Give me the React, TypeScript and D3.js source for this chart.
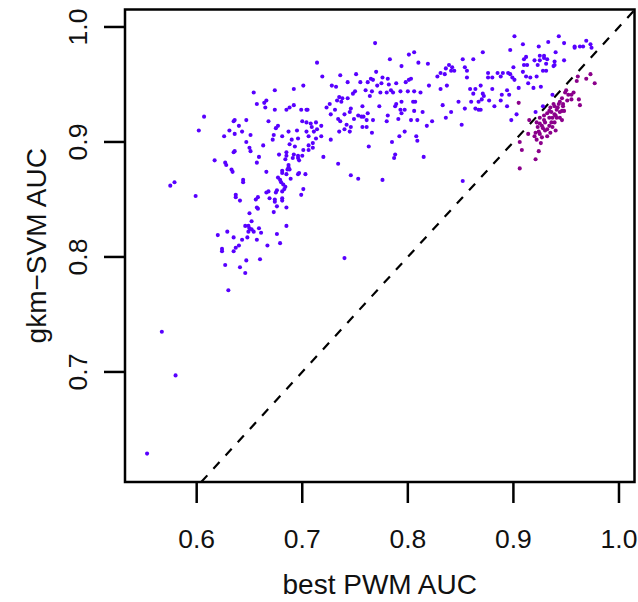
import React from "react";
import * as d3 from "d3";

// best PWM AUC (x) vs gkm-SVM AUC (y); gkm-SVM better (blue) / PWM comparable (purple)
const gkmBetter: [number, number][] = [
  [0.654,0.943],[0.674,0.945],[0.692,0.946],[0.657,0.933],[0.664,0.934],[0.666,0.936],[0.665,0.930],[0.674,0.928],
  [0.685,0.928],[0.688,0.930],[0.692,0.932],[0.607,0.922],[0.602,0.910],[0.635,0.918],[0.636,0.919],[0.647,0.919],
  [0.668,0.918],[0.640,0.914],[0.631,0.910],[0.643,0.909],[0.636,0.907],[0.675,0.912],[0.677,0.914],[0.687,0.909],
  [0.695,0.910],[0.626,0.905],[0.651,0.906],[0.673,0.906],[0.672,0.902],[0.681,0.905],[0.690,0.902],[0.696,0.903],
  [0.647,0.900],[0.663,0.897],[0.688,0.898],[0.693,0.896],[0.650,0.895],[0.651,0.892],[0.635,0.891],[0.636,0.892],
  [0.659,0.887],[0.678,0.889],[0.685,0.891],[0.685,0.888],[0.692,0.889],[0.696,0.888],[0.769,0.986],[0.783,0.972],
  [0.801,0.976],[0.806,0.978],[0.714,0.969],[0.794,0.966],[0.810,0.969],[0.719,0.957],[0.736,0.958],[0.751,0.959],
  [0.770,0.961],[0.765,0.955],[0.762,0.952],[0.767,0.954],[0.776,0.956],[0.781,0.955],[0.798,0.952],[0.801,0.954],
  [0.803,0.955],[0.755,0.952],[0.743,0.952],[0.701,0.949],[0.728,0.949],[0.732,0.948],[0.771,0.949],[0.775,0.951],
  [0.782,0.950],[0.789,0.951],[0.750,0.944],[0.748,0.942],[0.760,0.945],[0.766,0.944],[0.764,0.940],[0.774,0.943],
  [0.780,0.943],[0.784,0.945],[0.786,0.943],[0.793,0.944],[0.800,0.944],[0.806,0.944],[0.735,0.939],[0.738,0.938],
  [0.737,0.935],[0.733,0.936],[0.743,0.938],[0.726,0.933],[0.723,0.930],[0.757,0.931],[0.773,0.931],[0.789,0.933],
  [0.788,0.931],[0.794,0.935],[0.805,0.935],[0.807,0.935],[0.699,0.928],[0.704,0.928],[0.705,0.928],[0.731,0.928],
  [0.746,0.929],[0.745,0.926],[0.762,0.925],[0.793,0.928],[0.797,0.928],[0.727,0.924],[0.740,0.924],[0.753,0.923],
  [0.756,0.922],[0.758,0.922],[0.781,0.923],[0.794,0.925],[0.806,0.927],[0.734,0.920],[0.736,0.918],[0.749,0.920],
  [0.761,0.919],[0.767,0.919],[0.780,0.918],[0.791,0.920],[0.803,0.919],[0.809,0.919],[0.700,0.918],[0.704,0.917],
  [0.708,0.916],[0.713,0.917],[0.709,0.913],[0.718,0.914],[0.742,0.915],[0.746,0.913],[0.757,0.913],[0.740,0.911],
  [0.735,0.909],[0.745,0.909],[0.761,0.913],[0.766,0.908],[0.797,0.909],[0.704,0.909],[0.711,0.909],[0.714,0.911],
  [0.706,0.905],[0.713,0.903],[0.718,0.905],[0.792,0.905],[0.808,0.905],[0.809,0.901],[0.727,0.902],[0.785,0.900],
  [0.710,0.899],[0.710,0.895],[0.706,0.897],[0.701,0.893],[0.706,0.893],[0.763,0.896],[0.720,0.887],[0.788,0.889],
  [0.787,0.886],[0.901,0.992],[0.909,0.985],[0.897,0.980],[0.924,0.983],[0.871,0.978],[0.852,0.972],[0.862,0.972],
  [0.912,0.974],[0.910,0.972],[0.920,0.971],[0.819,0.968],[0.839,0.967],[0.836,0.964],[0.842,0.965],[0.844,0.962],
  [0.841,0.962],[0.854,0.965],[0.856,0.962],[0.910,0.967],[0.913,0.967],[0.900,0.965],[0.923,0.967],[0.831,0.960],
  [0.835,0.959],[0.828,0.957],[0.856,0.956],[0.876,0.960],[0.876,0.956],[0.880,0.956],[0.885,0.960],[0.888,0.957],
  [0.890,0.960],[0.895,0.960],[0.897,0.959],[0.899,0.956],[0.909,0.961],[0.912,0.957],[0.916,0.956],[0.901,0.954],
  [0.922,0.957],[0.914,0.951],[0.820,0.949],[0.837,0.949],[0.831,0.946],[0.869,0.949],[0.864,0.946],[0.859,0.946],
  [0.880,0.946],[0.894,0.945],[0.905,0.947],[0.919,0.947],[0.812,0.943],[0.862,0.942],[0.871,0.942],[0.872,0.940],
  [0.889,0.941],[0.896,0.941],[0.870,0.937],[0.848,0.935],[0.860,0.935],[0.867,0.935],[0.877,0.936],[0.888,0.936],
  [0.833,0.932],[0.854,0.929],[0.864,0.929],[0.867,0.928],[0.869,0.928],[0.894,0.931],[0.841,0.926],[0.814,0.926],
  [0.836,0.921],[0.823,0.918],[0.818,0.914],[0.851,0.915],[0.898,0.919],[0.943,0.992],[0.933,0.987],[0.948,0.986],
  [0.969,0.988],[0.973,0.985],[0.974,0.982],[0.958,0.983],[0.958,0.982],[0.963,0.983],[0.966,0.983],[0.940,0.978],
  [0.925,0.975],[0.929,0.975],[0.929,0.973],[0.925,0.971],[0.932,0.972],[0.939,0.970],[0.948,0.971],[0.931,0.968],
  [0.938,0.966],[0.939,0.967],[0.928,0.962],[0.931,0.962],[0.926,0.948],[0.937,0.941],[0.928,0.931],[0.921,0.926],
  [0.882,0.931],[0.903,0.924],[0.617,0.884],[0.627,0.882],[0.628,0.880],[0.633,0.876],[0.634,0.874],[0.657,0.882],
  [0.666,0.874],[0.644,0.867],[0.644,0.865],[0.599,0.853],[0.637,0.854],[0.637,0.852],[0.641,0.849],[0.656,0.850],
  [0.658,0.852],[0.657,0.843],[0.658,0.842],[0.650,0.838],[0.666,0.856],[0.668,0.857],[0.669,0.851],[0.675,0.856],
  [0.676,0.858],[0.674,0.850],[0.674,0.848],[0.681,0.851],[0.681,0.849],[0.676,0.844],[0.673,0.839],[0.685,0.843],
  [0.681,0.875],[0.681,0.873],[0.677,0.869],[0.679,0.867],[0.680,0.865],[0.682,0.863],[0.684,0.861],[0.683,0.859],
  [0.681,0.857],[0.686,0.876],[0.687,0.878],[0.688,0.876],[0.687,0.880],[0.685,0.872],[0.689,0.868],[0.696,0.872],
  [0.697,0.873],[0.703,0.872],[0.701,0.859],[0.699,0.854],[0.684,0.885],[0.691,0.886],[0.696,0.886],[0.697,0.884],
  [0.700,0.888],[0.652,0.831],[0.646,0.827],[0.649,0.827],[0.650,0.825],[0.652,0.824],[0.654,0.822],[0.649,0.822],
  [0.659,0.825],[0.661,0.821],[0.620,0.819],[0.629,0.822],[0.635,0.817],[0.643,0.815],[0.648,0.817],[0.657,0.815],
  [0.676,0.820],[0.685,0.827],[0.679,0.812],[0.667,0.810],[0.640,0.810],[0.637,0.808],[0.624,0.807],[0.624,0.805],
  [0.635,0.805],[0.627,0.793],[0.647,0.797],[0.660,0.798],[0.641,0.791],[0.646,0.786],[0.630,0.771],[0.575,0.862],
  [0.579,0.865],[0.740,0.799],[0.746,0.871],[0.753,0.868],[0.734,0.881],[0.815,0.887],[0.553,0.629],[0.567,0.735],
  [0.580,0.697],[0.776,0.867],[0.852,0.866],
];

const pwmComparable: [number, number][] = [
  [0.905,0.934],[0.906,0.900],[0.908,0.893],[0.924,0.892],[0.921,0.885],[0.906,0.877],[0.961,0.957],[0.969,0.955],
  [0.973,0.959],[0.977,0.951],[0.962,0.937],[0.963,0.932],[0.955,0.941],[0.921,0.908],[0.914,0.907],[0.957,0.943],
  [0.950,0.945],[0.955,0.937],[0.949,0.943],[0.952,0.941],[0.915,0.919],[0.944,0.935],[0.943,0.933],[0.947,0.933],
  [0.939,0.931],[0.935,0.930],[0.941,0.928],[0.946,0.927],[0.936,0.926],[0.932,0.925],[0.929,0.923],[0.934,0.921],
  [0.940,0.923],[0.944,0.921],[0.946,0.919],[0.936,0.917],[0.930,0.917],[0.925,0.916],[0.928,0.912],[0.932,0.911],
  [0.924,0.909],[0.920,0.905],[0.925,0.907],[0.935,0.908],[0.940,0.910],[0.922,0.902],[0.927,0.904],[0.934,0.914],
  [0.939,0.917],[0.932,0.905],[0.946,0.938],[0.938,0.933],[0.948,0.927],[0.925,0.921],[0.941,0.921],[0.922,0.917],
  [0.960,0.953],[0.934,0.927],[0.939,0.924],[0.942,0.930],[0.927,0.914],[0.923,0.913],[0.937,0.913],[0.947,0.931],
  [0.929,0.919],[0.951,0.936],[0.944,0.926],[0.930,0.910],[0.937,0.921],[0.926,0.899],
];

const xTicks = [0.6, 0.7, 0.8, 0.9, 1.0];
const yTicks = [0.7, 0.8, 0.9, 1.0];
const xLabel = "best PWM AUC";
const yLabel = "gkm\u2212SVM AUC";

const W = 638;
const H = 602;
const L = 125, R = 634.5, T = 9.5, B = 482;
const font = "'Liberation Sans', Arial, Helvetica, sans-serif";

export default function App() {
  const x = d3.scaleLinear().domain([0.5321, 1.0147]).range([L, R]);
  const y = d3.scaleLinear().domain([0.6043, 1.0152]).range([B, T]);
  const lo = 0.6043, hi = 1.0152;
  return (
    <svg width={W} height={H} style={{ position: "fixed", left: 0, top: 0, background: "#fff" }}>
      <defs>
        <clipPath id="plotclip">
          <rect x={L} y={T} width={R - L} height={B - T} />
        </clipPath>
      </defs>
      <rect x={0} y={0} width={W} height={H} fill="#fff" />
      <g clipPath="url(#plotclip)">
        <line x1={x(lo)} y1={y(lo)} x2={x(hi)} y2={y(hi)} stroke="#000" strokeWidth={2.2} strokeDasharray="9 9" />
        {gkmBetter.map((d, i) => (
          <circle key={"b" + i} cx={x(d[0])} cy={y(d[1])} r={2.05} fill="#5800ff" />
        ))}
        {pwmComparable.map((d, i) => (
          <circle key={"p" + i} cx={x(d[0])} cy={y(d[1])} r={2.05} fill="#8b008b" />
        ))}
      </g>
      <rect x={L} y={T} width={R - L} height={B - T} fill="none" stroke="#000" strokeWidth={2.5} />
      {xTicks.map((t) => (
        <g key={"xt" + t}>
          <line x1={x(t)} x2={x(t)} y1={B} y2={B + 21} stroke="#000" strokeWidth={2.5} />
          <text x={x(t)} y={548} textAnchor="middle" fontFamily={font} fontSize={26.5} fill="#111">
            {t.toFixed(1)}
          </text>
        </g>
      ))}
      {yTicks.map((t) => (
        <g key={"yt" + t}>
          <line x1={L} x2={L - 21} y1={y(t)} y2={y(t)} stroke="#000" strokeWidth={2.5} />
          <text transform={`translate(87,${y(t)}) rotate(-90)`} textAnchor="middle" fontFamily={font} fontSize={26.5} fill="#111">
            {t.toFixed(1)}
          </text>
        </g>
      ))}
      <text x={(L + R) / 2} y={594} textAnchor="middle" fontFamily={font} fontSize={28} fill="#111">
        {xLabel}
      </text>
      <text transform={`translate(46,${(T + B) / 2}) rotate(-90)`} textAnchor="middle" fontFamily={font} fontSize={28} fill="#111">
        {yLabel}
      </text>
    </svg>
  );
}
